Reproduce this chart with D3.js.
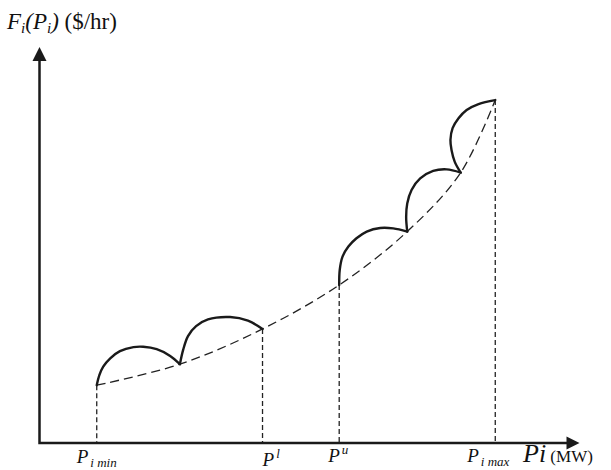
<!DOCTYPE html>
<html>
<head>
<meta charset="utf-8">
<script src="https://cdn.jsdelivr.net/npm/d3@7"></script>
<style>
  body { margin: 0; background: #fff; }
  text { font-family: "Liberation Serif", "DejaVu Serif", serif; fill: #111; }
</style>
</head>
<body>
<div id="chart"></div>
<script>
// Smooth cost curve (dashed).
const costP = [10.6, 26.0, 41.3, 55.5, 68.1, 78.0, 84.4];
const costF = [14.6, 19.9, 28.8, 39.9, 53.4, 68.3, 86.6];

// Valve-point arcs (solid), one array of [P, F] per arc.
const arc1 = [[10.6, 14.6], [11.1, 17.2], [11.8, 19.3], [13.1, 21.4], [14.9, 23.2], [17.4, 24.2],
  [19.2, 24.3], [21.7, 23.7], [24.2, 22.0], [26.0, 19.9]];
const arc2 = [[26.0, 19.9], [26.6, 23.5], [27.5, 27.0], [29.0, 29.5], [31.2, 31.2], [35.3, 31.8],
  [38.6, 30.9], [41.3, 28.8]];
const arc3 = [[55.5, 39.9], [55.6, 43.7], [56.1, 47.0], [57.2, 49.6], [58.7, 51.7], [60.6, 53.4],
  [63.1, 54.3], [65.5, 54.2], [68.1, 53.4]];
const arc4 = [[68.1, 53.4], [67.9, 57.1], [68.1, 60.5], [68.9, 63.9], [70.5, 66.8], [72.9, 68.7],
  [75.4, 69.1], [78.0, 68.3]];
const arc5 = [[78.0, 68.3], [76.9, 71.0], [76.3, 74.0], [76.1, 76.5], [76.5, 79.5], [77.6, 82.0],
  [79.1, 84.1], [81.3, 85.6], [84.4, 86.6]];
const arcs = [arc1, arc2, arc3, arc4, arc5];

// Marked outputs on the P axis (index into the cost curve) and their labels.
const markIndex = [0, 2, 3, 6];
const markBase = ["P", "P", "P", "P"];
const markSub = ["i min", "", "", "i max"];
const markSup = ["", "l", "u", ""];

const width = 611, height = 470;

const svg = d3.select("#chart").append("svg")
  .attr("width", width)
  .attr("height", height);

svg.append("rect").attr("width", width).attr("height", height).attr("fill", "#fff");

const x = d3.scaleLinear().domain([0, 100]).range([39.5, 579.5]);
const y = d3.scaleLinear().domain([0, 100]).range([443, 47]);

// vertical dashed drop lines
svg.selectAll("line.drop")
  .data(markIndex)
  .enter()
  .append("line")
  .attr("class", "drop")
  .attr("x1", (i) => x(costP[i]))
  .attr("x2", (i) => x(costP[i]))
  .attr("y1", (i) => y(costF[i]))
  .attr("y2", y(0))
  .attr("stroke", "#222")
  .attr("stroke-width", 1.3)
  .attr("stroke-dasharray", "5,3");

// one line generator for the dashed curve and the arcs
const costLine = d3.line()
  .x((d) => x(d[0]))
  .y((d) => y(d[1]))
  .curve(d3.curveCatmullRom.alpha(0.5));

svg.append("path")
  .datum(costP.map((p, i) => [p, costF[i]]))
  .attr("d", costLine)
  .attr("fill", "none")
  .attr("stroke", "#222")
  .attr("stroke-width", 1.3)
  .attr("stroke-dasharray", "9,5");

svg.selectAll("path.arc")
  .data(arcs)
  .enter()
  .append("path")
  .attr("class", "arc")
  .attr("d", costLine)
  .attr("fill", "none")
  .attr("stroke", "#1a1a1a")
  .attr("stroke-width", 2.4)
  .attr("stroke-linecap", "round");

// axes with arrow heads
svg.append("path")
  .attr("d", `M${x(0)},${y(100) + 10} L${x(0)},${y(0)} L${x(100) - 10},${y(0)}`)
  .attr("fill", "none")
  .attr("stroke", "#1a1a1a")
  .attr("stroke-width", 2.5);

svg.append("path")
  .attr("d", `M${x(0)},${y(100)} L${x(0) - 7},${y(100) + 14} L${x(0) + 7},${y(100) + 14} Z`)
  .attr("fill", "#1a1a1a");

svg.append("path")
  .attr("d", `M${x(100)},${y(0)} L${x(100) - 13},${y(0) - 6.5} L${x(100) - 13},${y(0) + 6.5} Z`)
  .attr("fill", "#1a1a1a");

// y axis title
const yTitle = svg.append("text").attr("x", 7).attr("y", 29).attr("font-size", 23);
yTitle.append("tspan").attr("font-style", "italic").text("F");
yTitle.append("tspan").attr("font-style", "italic").attr("font-size", 15).attr("dy", 4).text("i");
yTitle.append("tspan").attr("font-style", "italic").attr("dy", -4).text("(P");
yTitle.append("tspan").attr("font-style", "italic").attr("font-size", 15).attr("dy", 4).text("i");
yTitle.append("tspan").attr("font-style", "italic").attr("dy", -4).text(")");
yTitle.append("tspan").text(" ($/hr)");

// x axis title
const xTitle = svg.append("text").attr("x", 523).attr("y", 462);
xTitle.append("tspan").attr("font-style", "italic").attr("font-size", 26).text("Pi");
xTitle.append("tspan").attr("font-size", 17).text(" (MW)");

// labels under the marked outputs
const labelNudge = [-20, 0, -11, -28];
const labelDrop = [463, 466, 462, 462];
markIndex.forEach((idx, k) => {
  const t = svg.append("text")
    .attr("x", x(costP[idx]) + labelNudge[k])
    .attr("y", labelDrop[k])
    .attr("font-size", 19)
    .attr("font-style", "italic");
  t.append("tspan").text(markBase[k]);
  if (markSub[k]) t.append("tspan").attr("font-size", 13).attr("dx", 2).attr("dy", 4).text(markSub[k]);
  if (markSup[k]) t.append("tspan").attr("font-size", 13).attr("dx", 2).attr("dy", -8).text(markSup[k]);
});
</script>
</body>
</html>
